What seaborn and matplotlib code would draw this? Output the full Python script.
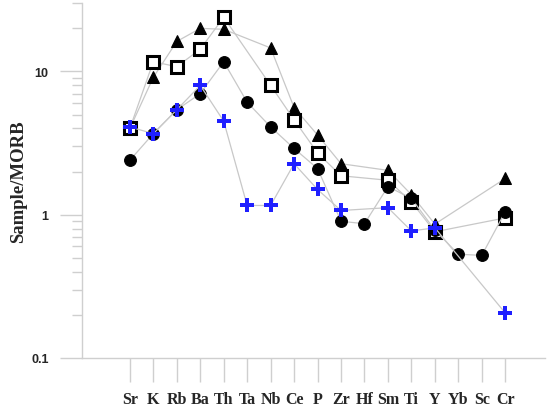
import numpy as np
import pandas as pd
import matplotlib
matplotlib.use("Agg")
import matplotlib.pyplot as plt
import seaborn as sns
from matplotlib.ticker import LogLocator, NullFormatter, FixedLocator, FixedFormatter

# 元素（MORB規格化）
elements = ["Sr", "K", "Rb", "Ba", "Th", "Ta", "Nb", "Ce", "P", "Zr",
            "Hf", "Sm", "Ti", "Y", "Yb", "Sc", "Cr"]

nan = np.nan
tri_vals = [4.0, 9.1, 16.2, 20.0, 19.7, nan, 14.6, 5.6, 3.6, 2.27,
            nan, 2.04, 1.38, 0.86, nan, nan, 1.79]
sq_vals = [4.0, 11.7, 10.8, 14.3, 23.9, nan, 8.0, 4.6, 2.7, 1.87,
           nan, 1.74, 1.23, 0.76, nan, nan, 0.95]
circ_vals = [2.4, 3.68, 5.4, 7.0, 11.7, 6.1, 4.1, 2.9, 2.1, 0.90,
             0.865, 1.57, 1.30, 0.78, 0.53, 0.52, 1.05]
plus_vals = [4.1, 3.68, 5.4, 8.0, 4.5, 1.16, 1.16, 2.27, 1.5, 1.07,
             nan, 1.12, 0.77, 0.81, nan, nan, 0.206]

series = {
    "tri": tri_vals,
    "sq": sq_vals,
    "circ": circ_vals,
    "plus": plus_vals,
}

styles = {
    "tri": dict(marker="^", markersize=8, markerfacecolor="black", markeredgecolor="black"),
    "sq": dict(marker="s", markersize=8.5, markerfacecolor="white", markeredgecolor="black",
               markeredgewidth=2.2),
    "circ": dict(marker="o", markersize=8.5, markerfacecolor="black", markeredgecolor="black"),
    "plus": dict(marker="P", markersize=9.5, markerfacecolor="#1f1fff", markeredgecolor="#1f1fff",
                 markeredgewidth=0),
}

sns.set_style("white")
fig = plt.figure(figsize=(5.54, 4.14), dpi=100)
ax = fig.add_axes([0.148, 0.133, 0.836, 0.857])

for name, vals in series.items():
    df = pd.DataFrame({"x": np.arange(len(elements)), "y": vals}).dropna()
    sns.lineplot(data=df, x="x", y="y", ax=ax, sort=False, estimator=None,
                 color="#c8c8c8", linewidth=0.9, **styles[name])

ax.set_yscale("log")
ax.set_ylim(0.1, 30)
ax.set_xlim(-2.04, 17.7)

# 軸の見た目
for s in ["top", "right"]:
    ax.spines[s].set_visible(False)
for s in ["left", "bottom"]:
    ax.spines[s].set_color("#cfcfcf")
    ax.spines[s].set_linewidth(1.0)

ax.yaxis.set_major_locator(FixedLocator([0.1, 1, 10]))
ax.yaxis.set_major_formatter(FixedFormatter(["0.1", "1", "10"]))
ax.yaxis.set_minor_locator(LogLocator(base=10, subs=np.arange(2, 10)))
ax.yaxis.set_minor_formatter(NullFormatter())
ax.tick_params(axis="y", which="major", left=True, direction="out", length=16, width=1,
               color="#cfcfcf", pad=8, labelsize=9)
ax.tick_params(axis="y", which="minor", left=True, direction="out", length=7, width=1,
               color="#cfcfcf")
for lbl in ax.get_yticklabels():
    lbl.set_fontweight("bold")
    lbl.set_fontfamily("Liberation Sans")

ax.set_xticks(np.arange(len(elements)))
ax.set_xticklabels(elements, fontfamily="Liberation Serif", fontweight="bold", fontsize=11.5)
ax.tick_params(axis="x", which="major", bottom=True, direction="out", length=17, width=1,
               color="#cfcfcf", pad=7)
ax.tick_params(axis="x", which="minor", bottom=False)

ax.set_xlabel("")
ax.set_ylabel("Sample/MORB", fontfamily="Liberation Serif", fontweight="bold", fontsize=13.5)
ax.yaxis.set_label_coords(-0.118, 0.5)

fig.savefig("out.png", dpi=100)
